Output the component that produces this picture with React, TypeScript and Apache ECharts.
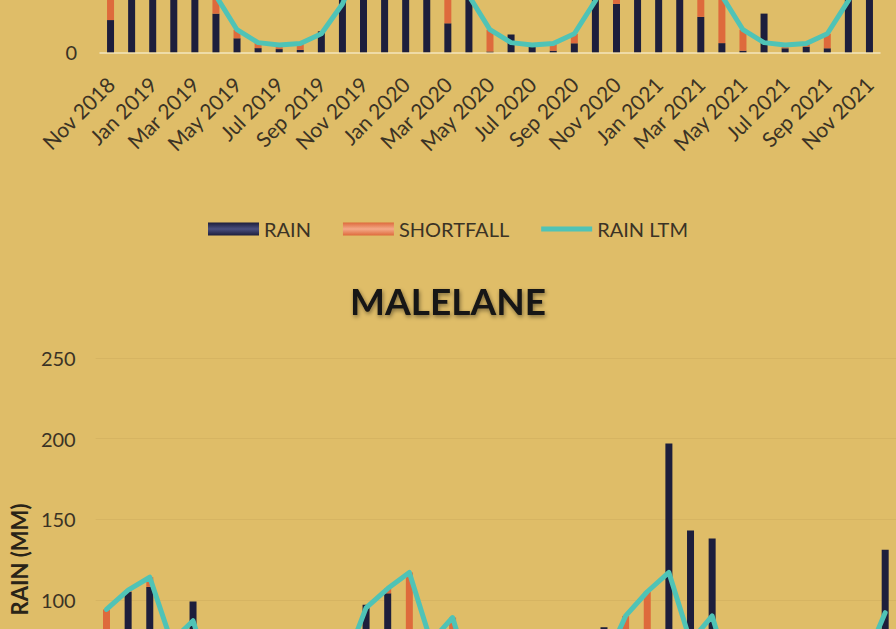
import React, { useEffect, useRef } from 'react';
import * as echarts from 'echarts';

const CATEGORIES = [
  'Nov 2018', 'Dec 2018', 'Jan 2019', 'Feb 2019', 'Mar 2019', 'Apr 2019', 'May 2019', 'Jun 2019',
  'Jul 2019', 'Aug 2019', 'Sep 2019', 'Oct 2019', 'Nov 2019', 'Dec 2019', 'Jan 2020', 'Feb 2020',
  'Mar 2020', 'Apr 2020', 'May 2020', 'Jun 2020', 'Jul 2020', 'Aug 2020', 'Sep 2020', 'Oct 2020',
  'Nov 2020', 'Dec 2020', 'Jan 2021', 'Feb 2021', 'Mar 2021', 'Apr 2021', 'May 2021', 'Jun 2021',
  'Jul 2021', 'Aug 2021', 'Sep 2021', 'Oct 2021', 'Nov 2021',
];

// Upper chart (only its lowest part is in view)
const TOP_RAIN = [
  20, 110, 120, 95, 80, 24, 8.7, 2.6, 2, 1.5, 13, 50,
  75, 90, 130, 100, 18, 40, 0.5, 11, 3.3, 1, 5.6, 55,
  30, 100, 150, 110, 22, 5.7, 1, 24, 2.5, 3.5, 2.5, 60, 80,
];
const TOP_SHORTFALL = [
  40, 0, 0, 0, 0, 11, 5.3, 3.4, 2.5, 4, 0, 0,
  0, 0, 0, 0, 52, 0, 13.5, 0, 1.2, 4.5, 5.9, 0,
  30, 0, 0, 0, 48, 29.3, 13, 0, 2, 2, 9, 0, 0,
];
const TOP_LTM = [
  60, 85, 100, 90, 70, 35, 14, 6, 4.5, 5.5, 11.5, 30,
  60, 85, 100, 90, 70, 35, 14, 6, 4.5, 5.5, 11.5, 32,
  60, 85, 100, 90, 70, 35, 14, 6, 4.5, 5.5, 11.5, 32, 60,
];

// MALELANE
const MAL_RAIN = [
  45, 105, 108, 60, 99, 30, 10, 5, 3, 8, 20, 50,
  97, 104, 70, 65, 40, 30, 10, 5, 3, 8, 20, 83,
  30, 50, 197, 143, 138, 30, 10, 5, 3, 8, 20, 50, 131,
];
const MAL_SHORTFALL = [
  49, 1, 6, 14, 0, 15, 10, 5, 5, 4, 10, 10,
  0, 3, 47, 9, 49, 15, 10, 5, 5, 4, 10, 0,
  60, 55, 0, 0, 0, 15, 10, 5, 5, 4, 10, 10, 0,
];
const MAL_LTM = [
  94, 106, 114, 74, 87, 45, 20, 10, 8, 12, 30, 60,
  95, 107, 117, 74, 89, 45, 20, 10, 8, 12, 30, 60,
  90, 105, 117, 74, 90, 45, 20, 10, 8, 12, 30, 60, 92,
];

const STATION_TITLE = 'MALELANE';
const Y_AXIS_NAME = 'RAIN (MM)';
const SERIES_NAMES = ['RAIN', 'SHORTFALL', 'RAIN LTM'];
const Y_MIN = 0;
const Y_MAX = 250;
const Y_STEP = 50;
const MAL_FIRST_SHOWN_TICK = 100; // lower ticks fall below the visible window

const BG = '#dfbd68';
const NAVY = '#1d1e3c';
const ORANGE = '#de6a3c';
const TEAL = '#4fc3b6';
const TEXT = '#3b3325';
const FONT = 'Lato, "Open Sans", sans-serif';

// The chart canvas is taller than the window; it is shifted up so that
// only the slice shown in the reference is visible.
const CANVAS_H = 1250;
const OFFSET = 420;

export default function App() {
  const ref = useRef<HTMLDivElement>(null);

  useEffect(() => {
    const chart = echarts.init(ref.current!, null, { renderer: 'svg' });
    const plotH = 403;
    const topAxisY = 52.3 + OFFSET;

    const barBase = { type: 'bar', barWidth: 7 };
    const lineBase = {
      type: 'line',
      showSymbol: false,
      symbol: 'none',
      z: 5,
      lineStyle: { color: TEAL, width: 5, join: 'round', cap: 'round' },
      itemStyle: { color: TEAL },
    };

    const option: any = {
      animation: false,
      backgroundColor: BG,
      textStyle: { fontFamily: FONT },
      title: {
        text: STATION_TITLE,
        left: 'center',
        top: 277 + OFFSET,
        textStyle: {
          fontFamily: FONT,
          fontSize: 37,
          fontWeight: 'bold',
          color: '#141414',
          textShadowColor: 'rgba(0,0,0,0.45)',
          textShadowBlur: 4,
          textShadowOffsetX: 1,
          textShadowOffsetY: 2,
        },
      },
      legend: {
        top: 214 + OFFSET,
        left: 'center',
        itemWidth: 51,
        itemHeight: 13,
        itemGap: 32,
        textStyle: { fontSize: 20, color: TEXT, fontFamily: FONT },
        data: [
          {
            name: SERIES_NAMES[0],
            icon: 'rect',
            itemStyle: {
              color: new echarts.graphic.LinearGradient(0, 0, 0, 1, [
                { offset: 0, color: NAVY },
                { offset: 0.5, color: '#4a4f7e' },
                { offset: 1, color: NAVY },
              ]),
            },
          },
          {
            name: SERIES_NAMES[1],
            icon: 'rect',
            itemStyle: {
              color: new echarts.graphic.LinearGradient(0, 0, 0, 1, [
                { offset: 0, color: ORANGE },
                { offset: 0.5, color: '#f4a988' },
                { offset: 1, color: ORANGE },
              ]),
            },
          },
          {
            name: SERIES_NAMES[2],
            icon: 'path://M0,0H60V6H0Z',
            itemStyle: { color: TEAL, borderWidth: 0 },
          },
        ],
      },
      grid: [
        { left: 100, width: 780, top: topAxisY - plotH, height: plotH },
        { left: 93, width: 803, top: 358 + OFFSET, height: plotH },
      ],
      xAxis: [
        {
          type: 'category',
          gridIndex: 0,
          data: CATEGORIES,
          axisTick: { show: false },
          axisLine: { lineStyle: { color: '#f4e6bd', width: 1.5 } },
          axisLabel: { interval: 1, rotate: 45, fontSize: 21, color: TEXT, margin: 28, fontFamily: FONT },
        },
        {
          type: 'category',
          gridIndex: 1,
          data: CATEGORIES,
          axisTick: { show: false },
          axisLine: { show: false },
          axisLabel: { show: false },
        },
      ],
      yAxis: [
        {
          type: 'value',
          gridIndex: 0,
          min: Y_MIN,
          max: Y_MAX,
          interval: Y_STEP,
          axisLine: { show: false },
          axisTick: { show: false },
          splitLine: { show: false },
          axisLabel: {
            fontSize: 20,
            color: TEXT,
            margin: 23,
            fontFamily: FONT,
            formatter: (v: number) => (v === Y_MIN ? String(v) : ''),
          },
        },
        {
          type: 'value',
          gridIndex: 1,
          min: Y_MIN,
          max: Y_MAX,
          interval: Y_STEP,
          name: Y_AXIS_NAME,
          nameLocation: 'middle',
          nameGap: 62,
          nameTextStyle: { fontWeight: 'bold', fontSize: 22, color: '#2a2418', fontFamily: FONT },
          axisLine: { show: false },
          axisTick: { show: false },
          splitLine: { lineStyle: { color: '#d6b462', width: 1 } },
          axisLabel: {
            fontSize: 20,
            color: TEXT,
            margin: 20,
            fontFamily: FONT,
            formatter: (v: number) => (v >= MAL_FIRST_SHOWN_TICK ? String(v) : ''),
          },
        },
      ],
      series: [
        { ...barBase, name: SERIES_NAMES[0], xAxisIndex: 0, yAxisIndex: 0, stack: 'top', data: TOP_RAIN, itemStyle: { color: NAVY } },
        { ...barBase, name: SERIES_NAMES[1], xAxisIndex: 0, yAxisIndex: 0, stack: 'top', data: TOP_SHORTFALL, itemStyle: { color: ORANGE } },
        { ...lineBase, name: SERIES_NAMES[2], xAxisIndex: 0, yAxisIndex: 0, data: TOP_LTM },
        { ...barBase, name: SERIES_NAMES[0], xAxisIndex: 1, yAxisIndex: 1, stack: 'mal', data: MAL_RAIN, itemStyle: { color: NAVY } },
        { ...barBase, name: SERIES_NAMES[1], xAxisIndex: 1, yAxisIndex: 1, stack: 'mal', data: MAL_SHORTFALL, itemStyle: { color: ORANGE } },
        { ...lineBase, name: SERIES_NAMES[2], xAxisIndex: 1, yAxisIndex: 1, data: MAL_LTM },
      ],
    };

    chart.setOption(option);
    return () => chart.dispose();
  }, []);

  return (
    <div style={{ position: 'absolute', left: 0, top: 0, width: 896, height: 629, overflow: 'hidden', background: BG }}>
      <div ref={ref} style={{ position: 'absolute', left: 0, top: -OFFSET, width: 896, height: CANVAS_H }} />
    </div>
  );
}
